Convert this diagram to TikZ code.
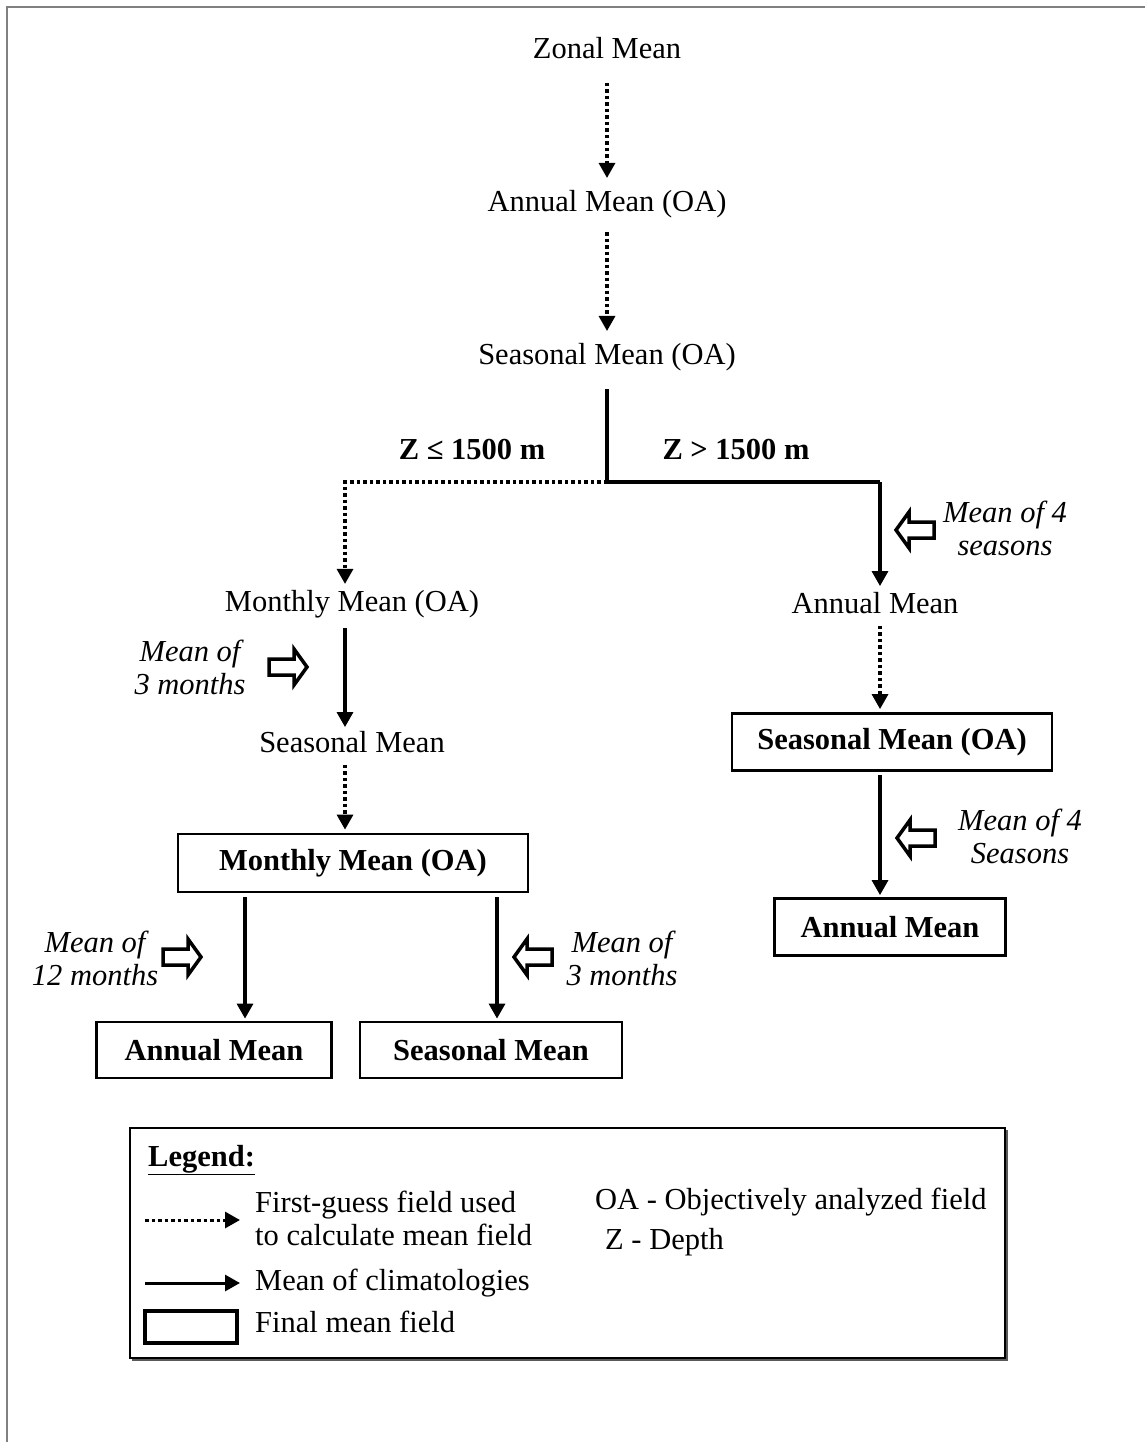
\documentclass[tikz,border=0pt]{standalone}
\usepackage{fontspec}
\setmainfont{Liberation Serif}
\usetikzlibrary{arrows.meta}
\newcommand\fsz{\fontsize{30.5}{33}\selectfont}
\tikzset{
  lbl/.style={font=\fsz, inner sep=0pt},
  blbl/.style={font=\fsz\bfseries, inner sep=0pt},
  ilbl/.style={font=\fsz\itshape, inner sep=0pt, align=center},
  fbox/.style={draw, line width=2.8pt, font=\fsz\bfseries, inner sep=0pt},
  solidarr/.style={line width=3.2pt, -{Triangle[length=15pt,width=16pt]}},
  dotarr/.style={solidarr, dash pattern=on 3.5pt off 3pt},
  plainline/.style={line width=3.2pt},
  pics/hollowR/.style={code={
    \draw[line width=3.5pt, fill=white, line join=miter]
      (-19,-8) -- (6,-8) -- (6,-18) -- (19,0) -- (6,18) -- (6,8) -- (-19,8) -- cycle;}},
  pics/hollowL/.style={code={
    \draw[line width=3.5pt, fill=white, line join=miter]
      (19,-8) -- (-6,-8) -- (-6,-18) -- (-19,0) -- (-6,18) -- (-6,8) -- (19,8) -- cycle;}},
}
\begin{document}
\begin{tikzpicture}[x=1pt,y=-1pt]
\useasboundingbox (0,0) rectangle (1145,1442);
% outer border (top and left only)
\draw[gray, line width=2.2pt] (7,1442) -- (7,7) -- (1145,7);

% columns
\coordinate (split) at (607,482);
\coordinate (splitL) at (345,482);
\coordinate (splitR) at (880,482);

% top chain
\node[lbl] (zonal) at (607,48) {Zonal Mean};
\node[lbl] (annOA) at (607,204) {Annual Mean (OA)};
\node[lbl] (seasOA) at (607,357) {Seasonal Mean (OA)};
\draw[dotarr, shorten <=24pt, shorten >=12pt] (zonal) -- (annOA);
\draw[dotarr, shorten <=14pt, shorten >=12pt] (annOA) -- (seasOA);
\draw[plainline, shorten <=18pt] (seasOA) -- (split);

\node[blbl] (zle) at (472,450) {Z ≤ 1500 m};
\node[blbl] (zgt) at (736,450) {Z > 1500 m};

% left branch
\node[lbl] (monOA) at (352,604) {Monthly Mean (OA)};
\draw[dotarr, shorten >=6pt] (split) -- (splitL) -- (splitL |- monOA.north);
\node[lbl] (seasL) at (352,742) {Seasonal Mean};
\draw[solidarr, shorten <=10pt, shorten >=4pt] (monOA.south -| splitL) -- (seasL.north -| splitL);
\node[fbox, minimum width=350pt, minimum height=58pt] (monBox) at (353,863) {Monthly Mean (OA)};
\draw[dotarr, shorten <=12pt, shorten >=3pt] (seasL.south -| splitL) -- (monBox.north -| splitL);

\coordinate (colA) at (245,0);
\coordinate (colB) at (497,0);
\node[fbox, minimum width=235pt, minimum height=56pt] (annBoxL) at (214,1050) {Annual Mean};
\node[fbox, minimum width=262pt, minimum height=56pt] (seasBoxL) at (491,1050) {Seasonal Mean};
\draw[solidarr, shorten <=4pt, shorten >=2pt] (monBox.south -| colA) -- (annBoxL.north -| colA);
\draw[solidarr, shorten <=4pt, shorten >=2pt] (monBox.south -| colB) -- (seasBoxL.north -| colB);

% right branch
\node[lbl] (annR) at (875,603) {Annual Mean};
\draw[plainline] (split) -- (splitR);
\draw[solidarr, shorten >=6pt] (splitR) -- (splitR |- annR.north);
\node[fbox, minimum width=320pt, minimum height=57pt] (seasBoxR) at (892,742) {Seasonal Mean (OA)};
\draw[dotarr, shorten <=12pt, shorten >=3pt] (annR.south -| splitR) -- (seasBoxR.north -| splitR);
\node[fbox, minimum width=231pt, minimum height=57pt] (annBoxR) at (890,927) {Annual Mean};
\draw[solidarr, shorten <=3pt, shorten >=2pt] (seasBoxR.south -| splitR) -- (annBoxR.north -| splitR);

% hollow arrows and italic notes
\pic at (288,667) {hollowR};
\node[ilbl] (n1) at (190,667) {Mean of\\3 months};
\pic at (915,530) {hollowL};
\node[ilbl] (n2) at (1005,528) {Mean of 4\\seasons};
\pic at (916,838) {hollowL};
\node[ilbl] (n3) at (1020,836) {Mean of 4\\Seasons};
\pic at (182,957) {hollowR};
\node[ilbl] (n4) at (95,958) {Mean of\\12 months};
\pic at (533,957) {hollowL};
\node[ilbl] (n5) at (622,958) {Mean of\\3 months};

% legend
\draw[line width=2pt, gray!70!black] (132,1360) -- (1007,1360) -- (1007,1130);
\draw[line width=1.8pt] (130,1128) rectangle (1005,1358);
\node[blbl, anchor=west] (leg) at (148,1160) {\underline{Legend:}};
\coordinate (d1) at (145,1220);
\coordinate (d2) at (240,1220);
\draw[dotarr, line width=3pt] (d1) -- (d2);
\node[lbl, anchor=west, align=left] (t1) at (255,1218) {First-guess field used\\to calculate mean field};
\coordinate (s1) at (145,1283);
\coordinate (s2) at (240,1283);
\draw[solidarr, line width=3pt] (s1) -- (s2);
\node[lbl, anchor=west] (t2) at (255,1283) {Mean of climatologies};
\node[draw, line width=4pt, minimum width=92pt, minimum height=32pt, inner sep=0pt] (lb) at (191,1327) {};
\node[lbl, anchor=west] (t3) at (255,1322) {Final mean field};
\node[lbl, anchor=west] (t4) at (595,1202) {OA - Objectively analyzed field};
\node[lbl, anchor=west] (t5) at (605,1242) {Z - Depth};
\end{tikzpicture}
\end{document}
